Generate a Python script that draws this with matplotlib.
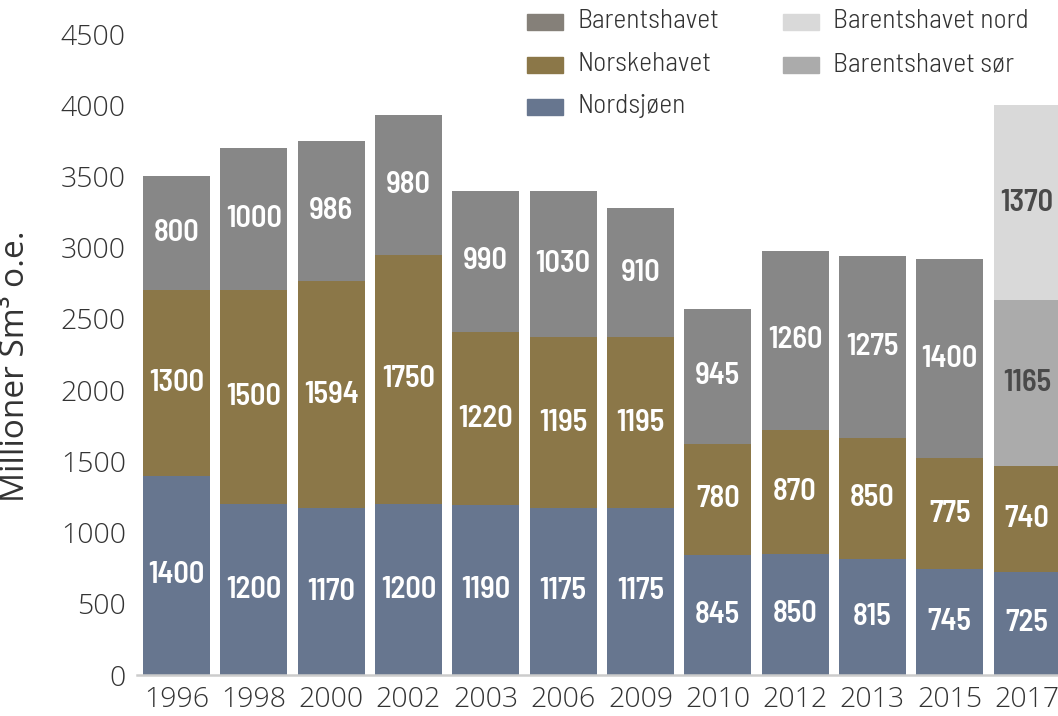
import matplotlib
matplotlib.use("Agg")
import matplotlib.pyplot as plt
from matplotlib.patches import Rectangle
import numpy as np

years = ["1996", "1998", "2000", "2002", "2003", "2006", "2009", "2010", "2012", "2013", "2015", "2017"]
nordsjoen = [1400, 1200, 1170, 1200, 1190, 1175, 1175, 845, 850, 815, 745, 725]
norskehavet = [1300, 1500, 1594, 1750, 1220, 1195, 1195, 780, 870, 850, 775, 740]
barentshavet = [800, 1000, 986, 980, 990, 1030, 910, 945, 1260, 1275, 1400, 0]
barents_sor = [0, 0, 0, 0, 0, 0, 0, 0, 0, 0, 0, 1165]
barents_nord = [0, 0, 0, 0, 0, 0, 0, 0, 0, 0, 0, 1370]
yticks = [0, 500, 1000, 1500, 2000, 2500, 3000, 3500, 4000, 4500]

series = [
    ("Nordsjøen", nordsjoen, "#67768f", "white"),
    ("Norskehavet", norskehavet, "#8b7748", "white"),
    ("Barentshavet", barentshavet, "#878787", "white"),
    ("Barentshavet sør", barents_sor, "#ababab", "#4a4a4a"),
    ("Barentshavet nord", barents_nord, "#d9d9d9", "#4a4a4a"),
]

W, H = 1058, 716
fig = plt.figure(figsize=(W / 100, H / 100), dpi=100)
ax = fig.add_axes([137 / W, (H - 675) / H, (W - 137) / W, (675 - 34) / H])

tick_font = dict(family=["Open Sans", "DejaVu Sans"], weight="light", size=20.5, color="#333333")
label_font = dict(family=["Barlow Semi Condensed", "DejaVu Sans"], weight=600, size=22)
legend_font = dict(family=["Barlow Semi Condensed", "DejaVu Sans"], weight=300, size=20, color="#333333")

x = np.arange(len(years))
bottom = np.zeros(len(years))
for name, vals, color, tcolor in series:
    vals = np.array(vals, dtype=float)
    ax.bar(x, vals, width=0.867, bottom=bottom, color=color, edgecolor="none")
    for xi, v, b in zip(x, vals, bottom):
        if v > 0:
            ax.text(xi, b + v / 2, f"{int(v)}", ha="center", va="center",
                    color=tcolor, **label_font)
    bottom += vals

ax.set_xlim(-0.511, 11.40)
ax.set_ylim(0, 4500)
ax.set_yticks(yticks)
ax.set_yticklabels([str(t) for t in yticks], fontdict=tick_font)
ax.set_xticks(x)
ax.set_xticklabels(years, fontdict=tick_font)
ax.tick_params(axis="both", length=0)
ax.tick_params(axis="y", pad=8)
ax.tick_params(axis="x", pad=8)
for s in ["top", "right", "left"]:
    ax.spines[s].set_visible(False)
ax.spines["bottom"].set_color("#cccccc")
ax.spines["bottom"].set_linewidth(1.8)
ax.set_ylabel("Millioner Sm³ o.e.", fontdict=dict(family=["Open Sans", "DejaVu Sans"], size=24, color="#333333"))
ax.yaxis.set_label_coords(-0.114, 0.482)

# legend (drawn in figure pixel coords)
leg_items = [
    ("Barentshavet", "#858079", 527, 22),
    ("Norskehavet", "#8b7748", 527, 65),
    ("Nordsjøen", "#67768f", 527, 107),
    ("Barentshavet nord", "#d9d9d9", 783, 22),
    ("Barentshavet sør", "#ababab", 783, 65),
]
for name, color, px, py in leg_items:
    fig.patches.append(Rectangle((px / W, (H - py - 8) / H), 36 / W, 16 / H,
                                 transform=fig.transFigure, color=color, zorder=5))
    fig.text((px + 50) / W, (H - py + 1) / H, name, ha="left", va="center", **legend_font)

fig.savefig("out.png", dpi=100)
